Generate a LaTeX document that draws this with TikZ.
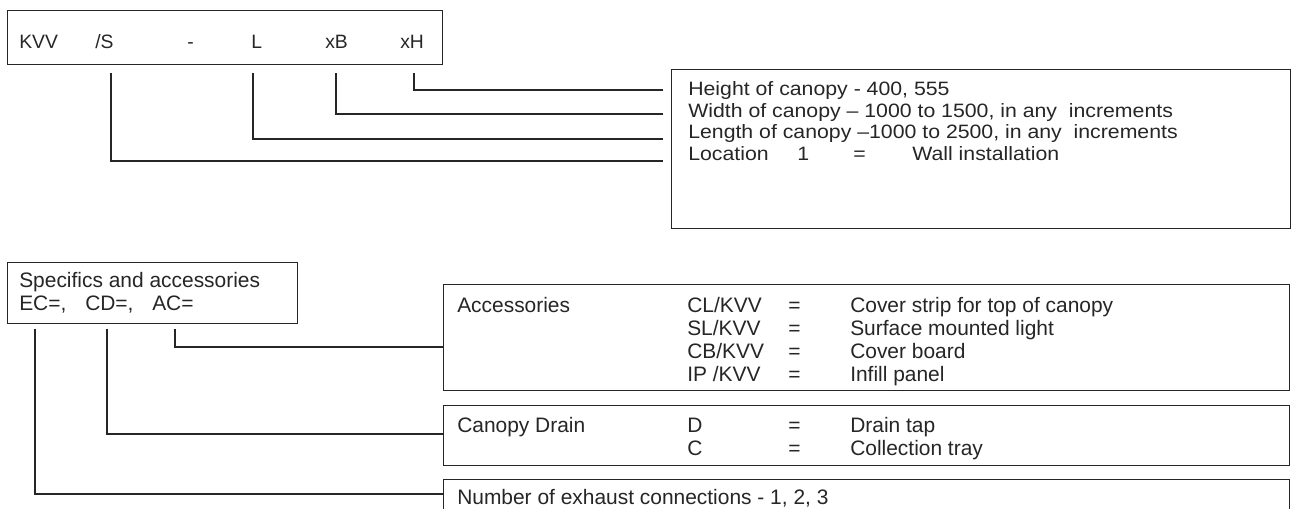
\documentclass[tikz,border=0pt]{standalone}
\usepackage{fontspec}
\setmainfont{Liberation Sans}
\newfontfamily\descfont[FakeStretch=1.1]{Liberation Sans}
\begin{document}
\begin{tikzpicture}[x=0.75pt,y=-0.75pt,
  line/.style={draw=black!85, line width=1.1pt},
  box/.style={draw=black!85, line width=1.1pt, rectangle, inner sep=0pt, anchor=north west},
  tl/.style={inner sep=0pt, anchor=base west, text=black!85, font=\fontsize{15.7pt}{17pt}\selectfont},
  tt/.style={inner sep=0pt, anchor=base west, text=black!85, font=\fontsize{14.5pt}{17pt}\selectfont},
  td/.style={inner sep=0pt, anchor=base west, text=black!85, font=\descfont\fontsize{14.5pt}{17pt}\selectfont},
]
\clip (0,0) rectangle (1291,508);
\fill[white] (0,0) rectangle (1291,508);

% ---- code box
\node[box, minimum width=326.25pt, minimum height=40.5pt] (code) at (7,10) {};
\node[tt] (kvv) at (19,48) {KVV};
\node[tt] (s) at (95,48) {/S};
\node[tt] (dash) at (187,48) {-};
\node[tt] (l) at (251,48) {L};
\node[tt] (xb) at (325,48) {xB};
\node[tt] (xh) at (400,48) {xH};

% ---- description box
\node[box, minimum width=464.25pt, minimum height=119.25pt] (desc) at (671,69) {};
\node[td] (d1) at (688,95) {Height of canopy - 400, 555};
\node[td] (d2) at (688,117) {Width of canopy – 1000 to 1500, in any\ \ increments};
\node[td] (d3) at (688,138) {Length of canopy –1000 to 2500, in any\ \ increments};
\node[td] (d4) at (688,160) {Location};
\node[td] (d4b) at (797,160) {1};
\node[td] (d4c) at (853,160) {=};
\node[td] (d4d) at (912,160) {Wall installation};

% leader start / end points
\coordinate (pH) at (414,73);
\coordinate (pB) at (336,73);
\coordinate (pL) at (253,73);
\coordinate (pS) at (111,73);
\coordinate (eH) at (663,90);
\coordinate (eB) at (663,114);
\coordinate (eL) at (663,139);
\coordinate (eS) at (663,161);
\draw[line] (pH) |- (eH);
\draw[line] (pB) |- (eB);
\draw[line] (pL) |- (eL);
\draw[line] (pS) |- (eS);

% ---- specifics box
\node[box, minimum width=217.5pt, minimum height=45.75pt] (spec) at (7,262) {};
\node[tl] (sp1) at (19,287) {Specifics and accessories};
\node[tl] (ec) at (19,310) {EC=,};
\node[tl] (cd) at (85,310) {CD=,};
\node[tl] (ac) at (152,310) {AC=};

% ---- accessories box
\node[box, minimum width=634.5pt, minimum height=79.5pt] (acc) at (443,284) {};
\node[tl] (a0) at (457,312) {Accessories};
\node[tl] (a1) at (687,312) {CL/KVV};
\node[tl] (a2) at (687,335) {SL/KVV};
\node[tl] (a3) at (687,358) {CB/KVV};
\node[tl] (a4) at (687,381) {IP /KVV};
\node[tl] (q1) at (788,312) {=};
\node[tl] (q2) at (788,335) {=};
\node[tl] (q3) at (788,358) {=};
\node[tl] (q4) at (788,381) {=};
\node[tl] (b1) at (850,312) {Cover strip for top of canopy};
\node[tl] (b2) at (850,335) {Surface mounted light};
\node[tl] (b3) at (850,358) {Cover board};
\node[tl] (b4) at (850,381) {Infill panel};

% ---- drain box
\node[box, minimum width=634.5pt, minimum height=45pt] (drain) at (443,405) {};
\node[tl] (c0) at (457,432) {Canopy Drain};
\node[tl] (c1) at (687,432) {D};
\node[tl] (c2) at (687,455) {C};
\node[tl] (r1) at (788,432) {=};
\node[tl] (r2) at (788,455) {=};
\node[tl] (e1) at (850,432) {Drain tap};
\node[tl] (e2) at (850,455) {Collection tray};

% ---- exhaust box (cut by the lower edge)
\node[box, minimum width=634.5pt, minimum height=45pt] (num) at (443,479) {};
\node[tl] (n0) at (457,504) {Number of exhaust connections - 1, 2, 3};

% lower leaders
\coordinate (pAC) at (175,329);
\coordinate (pCD) at (107,329);
\coordinate (pEC) at (35,329);
\draw[line] (pAC) |- (acc.west |- 0,347);
\draw[line] (pCD) |- (drain.west |- 0,434);
\draw[line] (pEC) |- (num.west |- 0,494);
\end{tikzpicture}
\end{document}
